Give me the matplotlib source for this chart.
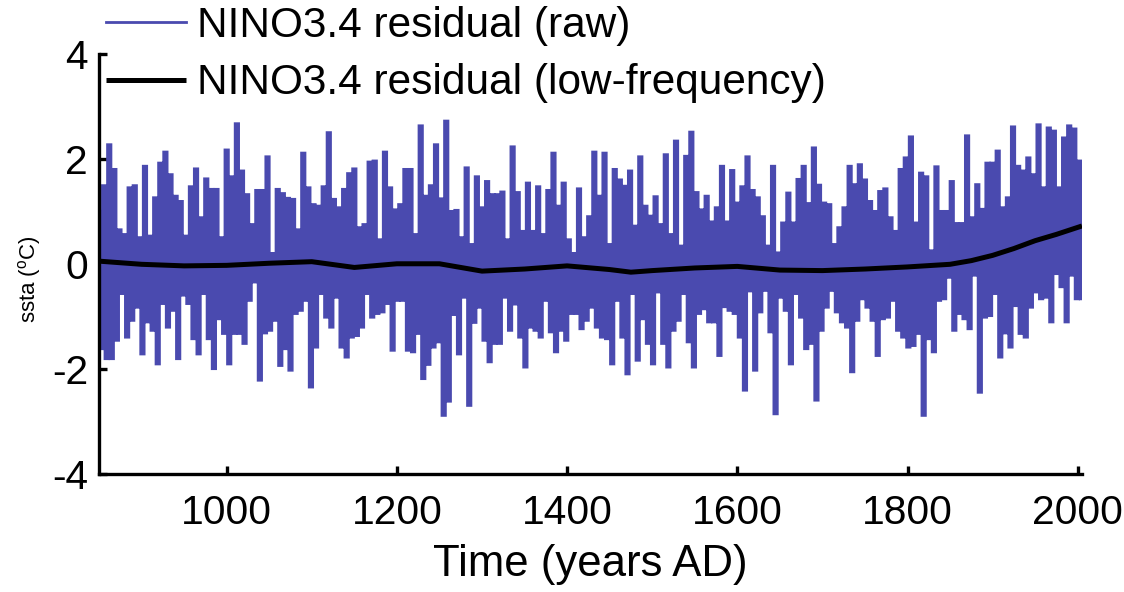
import numpy as np
import matplotlib
matplotlib.use("Agg")
import matplotlib.pyplot as plt

plt.rcParams['font.family'] = ['Liberation Sans', 'DejaVu Sans']
plt.rcParams['mathtext.fontset'] = 'custom'
plt.rcParams['mathtext.rm'] = 'Liberation Sans'
plt.rcParams['mathtext.it'] = 'Liberation Sans:italic'

# ---- data ----
raw_start, raw_end, raw_step = 850, 2005, 3   # raw series sampled every 3 years
# alternating local maxima (years 850, 856, ...) and minima (853, 859, ...)
raw_peaks = [
    1.0, 1.49, 2.27, 1.8, 0.65, 0.56, 1.45, 1.49, 0.5, 1.86, 0.53, 1.26, 1.92, 2.13, 1.7, 1.29, 1.19,
    0.53, 1.47, 1.81, 0.88, 1.62, 1.42, 1.42, 0.5, 2.17, 1.66, 2.67, 1.77, 1.32, 0.75, 1.4, 1.4,
    2.04, 0.2, 1.42, 1.34, 1.25, 1.23, 0.65, 2.11, 1.45, 1.13, 1.1, 1.47, 2.5, 1.23, 1.07, 1.42,
    1.72, 1.81, 0.69, 0.75, 1.94, 1.96, 0.46, 2.13, 1.45, 1.03, 1.13, 1.8, 1.8, 0.56, 2.63, 1.29,
    1.49, 2.27, 1.24, 2.72, 1.0, 1.02, 0.5, 1.83, 0.37, 1.66, 1.07, 1.57, 1.32, 1.32, 1.37, 0.46,
    2.23, 1.36, 0.62, 1.54, 0.62, 1.47, 0.56, 1.4, 2.11, 1.1, 1.54, 0.46, 0.2, 1.43, 0.5, 0.9,
    2.13, 1.29, 2.11, 0.37, 1.8, 1.6, 1.48, 1.77, 0.72, 2.04, 1.1, 0.91, 1.28, 0.75, 2.08, 0.56,
    2.34, 0.34, 2.05, 2.51, 1.36, 1.03, 1.29, 0.8, 1.07, 1.86, 0.8, 1.78, 1.16, 1.47, 2.04, 1.4,
    1.26, 0.9, 0.34, 1.86, 0.21, 0.78, 1.35, 0.78, 1.61, 1.86, 1.15, 2.21, 1.5, 1.16, 1.13, 0.37,
    0.69, 1.07, 1.86, 1.51, 1.89, 1.6, 1.19, 1.0, 1.38, 1.43, 0.88, 0.62, 1.8, 2.02, 2.42, 0.78, 1.73,
    1.66, 0.25, 1.85, 1.0, 1.0, 1.57, 0.77, 0.77, 2.44, 0.88, 1.51, 1.04, 1.92, 1.92, 2.15, 1.07,
    1.26, 2.61, 1.86, 1.77, 2.02, 1.7, 2.65, 1.45, 2.59, 2.53, 1.45, 2.4, 2.63, 2.57, 1.96,
]
raw_troughs = [
    -1.6, -1.79, -1.79, -1.44, -0.55, -1.38, -1.06, -0.81, -1.7, -1.09, -1.25, -1.89, -0.74, -1.19,
    -0.87, -1.79, -0.58, -0.74, -1.41, -1.7, -0.55, -1.41, -1.98, -1.03, -1.31, -1.89, -1.31, -1.31,
    -1.5, -0.68, -0.33, -2.2,
    -1.3, -1.25, -1.06, -1.92, -1.6, -2.01, -0.93, -0.87, -0.68, -2.33, -1.57, -0.55, -1.0, -1.19,
    -0.62, -1.57, -1.76, -1.38, -1.35, -1.19, -0.55, -1.0, -0.93, -0.9, -0.74, -1.63, -0.68, -0.68,
    -1.63, -1.66, -1.31, -2.17,
    -1.9, -1.57, -1.47, -2.87, -2.6, -0.95, -1.7, -0.62, -2.68, -1.1, -0.81, -1.44, -1.85, -1.5,
    -1.5, -0.62, -1.25, -0.75, -1.38, -1.95, -1.19, -1.25, -1.38, -0.68, -1.28, -1.66, -1.25, -1.44,
    -0.93, -0.93, -1.22, -1.06,
    -0.81, -1.19, -1.38, -1.41, -1.89, -0.68, -1.38, -2.08, -0.55, -1.82, -1.03, -1.5, -1.89, -0.52,
    -1.5, -1.95, -1.25, -1.06, -0.55, -1.47, -1.95, -0.93, -0.84, -1.09, -1.09, -1.73, -0.8, -0.87,
    -0.93, -1.38, -2.39, -0.5, -2.01,
    -0.9, -0.49, -1.28, -2.84, -0.62, -0.87, -1.89, -0.55, -1.0, -1.6, -1.5, -2.58, -1.25, -0.81,
    -0.49, -0.9, -1.09, -1.19, -2.04, -1.06, -0.65, -0.81, -1.06, -1.73, -1.03, -1.0, -0.68, -1.25,
    -1.38, -1.57, -1.54, -1.31, -2.87,
    -1.41, -1.66, -0.68, -0.65, -0.24, -1.25, -0.93, -1.03, -1.22, -0.2, -2.43, -1.0, -0.97, -0.55,
    -1.76, -1.3, -1.57, -0.78, -1.31, -1.38, -0.81, -0.52, -0.65, -0.62, -1.09, -0.17, -0.42, -1.09,
    -0.2, -0.65, -0.65,
]

lowfreq_years = [850, 900, 950, 1000, 1050, 1100, 1150, 1200, 1250, 1300, 1350, 1400, 1450, 1475,
                 1500, 1550, 1600, 1650, 1700, 1750, 1800, 1850, 1875, 1900, 1925, 1950, 1975, 2005]
lowfreq_ssta = [0.06, 0.0, -0.03, -0.02, 0.02, 0.05, -0.06, 0.01, 0.01, -0.13, -0.09, -0.03, -0.1, -0.15,
                -0.12, -0.07, -0.04, -0.11, -0.12, -0.09, -0.05, 0.0, 0.07, 0.17, 0.3, 0.45, 0.57, 0.73]

xticks = [1000, 1200, 1400, 1600, 1800, 2000]
yticks = [-4, -2, 0, 2, 4]
label_raw = 'NINO3.4 residual (raw)'
label_low = 'NINO3.4 residual (low-frequency)'

# ---- build series ----
raw_years = np.arange(raw_start, raw_end + 1, raw_step)
raw_ssta = np.empty(len(raw_peaks) + len(raw_troughs))
raw_ssta[0::2] = raw_peaks
raw_ssta[1::2] = raw_troughs

fig = plt.figure(figsize=(11.24, 5.92), dpi=100)
ax = fig.add_axes([0.0881, 0.1988, 0.8745, 0.7095])

l1, = ax.plot(raw_years, raw_ssta, color='#4a4aaf', lw=2.6, label=label_raw,
              drawstyle='steps-mid', snap=False, solid_joinstyle='miter')
l2, = ax.plot(lowfreq_years, lowfreq_ssta, color='black', lw=3.6, label=label_low,
              solid_capstyle='butt')

ax.set_xlim(850, 2005)
ax.set_ylim(-4, 4)
ax.set_xticks(xticks)
ax.set_yticks(yticks)
ax.set_yticklabels([str(v) for v in yticks])

for s in ['top', 'right']:
    ax.spines[s].set_visible(False)
for s in ['left', 'bottom']:
    ax.spines[s].set_linewidth(2.4)
ax.tick_params(direction='in', length=6, width=2.4, labelsize=29.3)
ax.tick_params(axis='x', pad=14)
ax.tick_params(axis='y', pad=8)

ax.set_xlabel('Time (years AD)', fontsize=31.5, labelpad=9)
ax.set_ylabel('ssta ($^{\\mathrm{o}}$C)', fontsize=16)
ax.yaxis.set_label_coords(-0.057, 0.465)

leg = ax.legend(handles=[l1, l2], loc='center left', bbox_to_anchor=(0.0943, 0.908),
                bbox_transform=fig.transFigure, frameon=False, fontsize=30.5, borderpad=0,
                borderaxespad=0, handlelength=1.9, handletextpad=0.26, labelspacing=0.42)
leg.get_lines()[0].set_linewidth(2.0)
leg.set_clip_on(False)

fig.savefig('out.png', dpi=100)
